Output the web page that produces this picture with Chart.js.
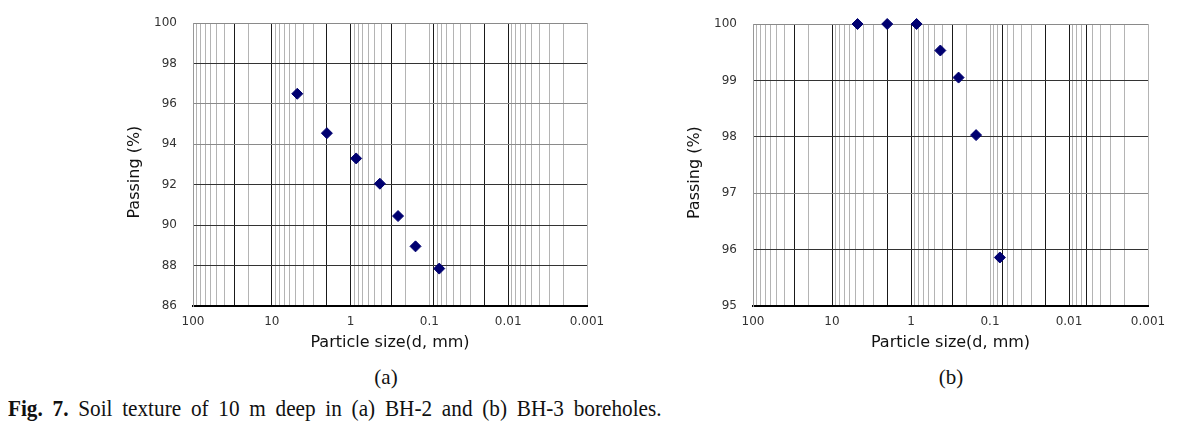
<!DOCTYPE html>
<html>
<head>
<meta charset="utf-8">
<script src="https://cdn.jsdelivr.net/npm/chart.js@4.4.1/dist/chart.umd.min.js"></script>
<style>
  html, body { margin: 0; padding: 0; background: #fff; width: 1178px; height: 436px; overflow: hidden; position: relative; }
  .panel { position: absolute; top: 0; }
  .sub { position: absolute; top: 365px; font: 21px "Liberation Serif", "Times New Roman", serif; color: #111; transform: translateX(-50%); }
  .caption { position: absolute; left: 8px; top: 395px; font: 24px "Liberation Serif", "Times New Roman", serif; color: #111; white-space: nowrap; word-spacing: 5px; transform-origin: 0 0; }
</style>
</head>
<body>
<div class="panel" style="left:100px"><canvas id="chartA" width="520" height="360"></canvas></div>
<div class="panel" style="left:660px"><canvas id="chartB" width="518" height="360"></canvas></div>
<div class="sub" style="left:386px">(a)</div>
<div class="sub" style="left:951px">(b)</div>
<div class="caption" id="caption"><b>Fig. 7.</b> Soil texture of 10 m deep in (a) BH-2 and (b) BH-3 boreholes.</div>
<script>
// sieve sizes (mm) and percent passing
const sizes = [4.75, 2, 0.85, 0.425, 0.25, 0.15, 0.075];
const passingBH2 = [96.5, 94.55, 93.3, 92.05, 90.45, 88.95, 87.85];
const passingBH3 = [100, 100, 100, 99.53, 99.05, 98.03, 95.86];

const decadeValues = [100, 10, 1, 0.1, 0.01, 0.001];
const decadeLabels = ['100', '10', '1', '0.1', '0.01', '0.001'];

// vertical lines drawn dark in each panel
const darkLinesA = [30, 10, 2, 1, 0.3, 0.09, 0.02, 0.01];
const darkLinesB = [30, 10, 2, 1, 0.3, 0.07, 0.02, 0.01, 0.006];
// horizontal lines drawn dark
const darkRowsA = [98, 92, 90, 88];
const darkRowsB = [99, 98, 96];

const same = (a, b) => Math.abs(Math.log10(a) - Math.log10(b)) < 1e-6;

// all 1..9 x 10^n gridlines between 0.001 and 100
const logTicks = [];
for (let e = -3; e <= 1; e++) {
  for (let m = 1; m <= 9; m++) logTicks.push(+(m * Math.pow(10, e)).toPrecision(6));
}
logTicks.push(100);

function makeChart(id, values, yMin, yStep, darkLines, darkRows, padTop, padRight) {
  const points = sizes.map((s, i) => ({ x: s, y: values[i] }));
  return new Chart(document.getElementById(id), {
    type: 'scatter',
    data: {
      datasets: [{
        data: points,
        pointStyle: 'rectRot',
        pointRadius: 5.5,
        backgroundColor: '#000070',
        borderColor: '#000070',
        borderWidth: 1,
        clip: false
      }]
    },
    options: {
      responsive: false,
      animation: false,
      layout: { padding: { top: padTop, right: padRight, bottom: 0, left: 0 } },
      plugins: { legend: { display: false }, tooltip: { enabled: false } },
      scales: {
        x: {
          type: 'logarithmic',
          reverse: true,
          min: 0.001,
          max: 100,
          afterBuildTicks: scale => { scale.ticks = logTicks.map(v => ({ value: v })); },
          afterFit: scale => {
            scale.height = 54;
            scale.paddingLeft = scale.paddingRight = 0;
          },
          grid: {
            drawTicks: false,
            color: ctx => (ctx.tick && darkLines.some(d => same(d, ctx.tick.value))) ? '#1a1a1a' : '#b4b4b4',
            lineWidth: 1
          },
          border: { display: true, color: '#000', width: 2 },
          ticks: {
            autoSkip: false,
            maxRotation: 0,
            padding: 9,
            color: '#333',
            font: { family: 'DejaVu Sans', size: 12 },
            callback: v => {
              const i = decadeValues.findIndex(d => same(d, v));
              return i >= 0 ? decadeLabels[i] : '';
            }
          },
          title: {
            display: true,
            text: 'Particle size(d, mm)',
            color: '#111',
            font: { family: 'DejaVu Sans', size: 16 },
            padding: { top: 0, bottom: 8 }
          }
        },
        y: {
          min: yMin,
          max: 100,
          afterFit: scale => {
            scale.width = 93;
            scale.paddingTop = scale.paddingBottom = 0;
          },
          grid: {
            drawTicks: false,
            color: ctx => (ctx.tick && darkRows.includes(ctx.tick.value)) ? '#333' : '#8a8a8a',
            lineWidth: 1
          },
          border: { display: true, color: '#999', width: 1 },
          ticks: {
            stepSize: yStep,
            padding: 16,
            color: '#333',
            font: { family: 'DejaVu Sans', size: 12 }
          },
          title: {
            display: true,
            text: 'Passing (%)   ',
            color: '#111',
            font: { family: 'DejaVu Sans', size: 16 },
            padding: { top: 25, bottom: 0 }
          }
        }
      }
    }
  });
}

makeChart('chartA', passingBH2, 86, 2, darkLinesA, darkRowsA, 23, 33);
makeChart('chartB', passingBH3, 95, 1, darkLinesB, darkRowsB, 24, 30);

// the caption in the figure is set in a condensed face: squeeze it to its 654px width
const cap = document.getElementById('caption');
cap.style.transform = 'scaleX(' + (654 / cap.scrollWidth) + ')';
</script>
</body>
</html>
